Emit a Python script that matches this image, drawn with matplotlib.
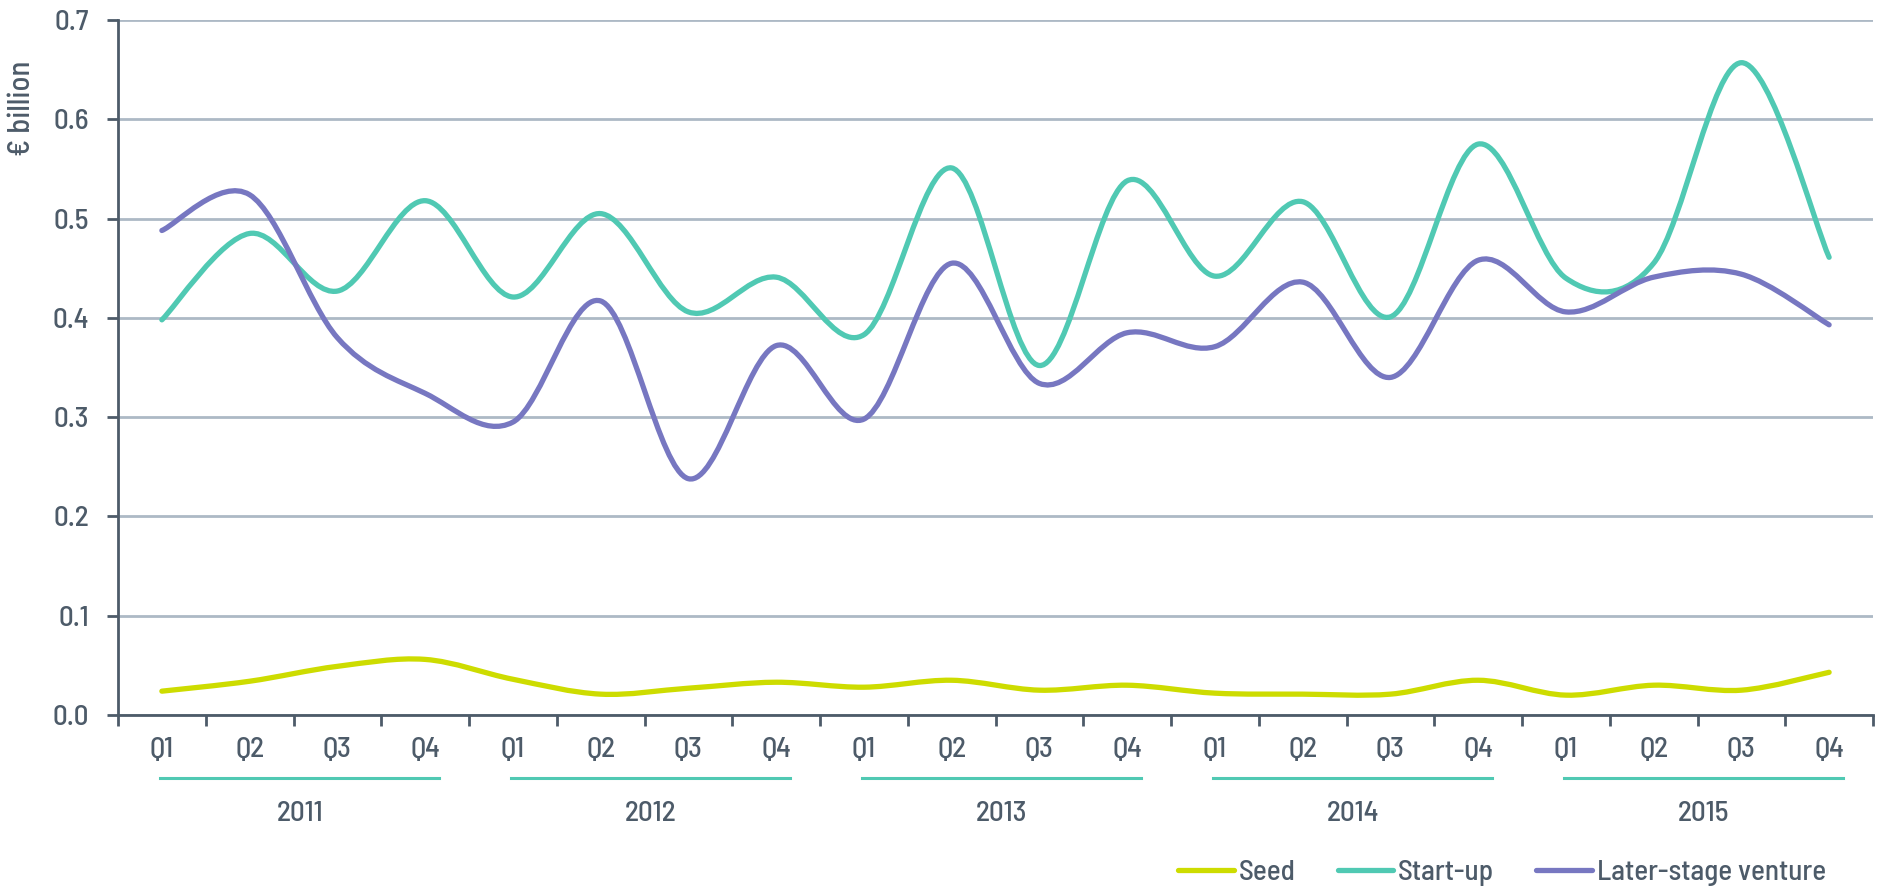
import numpy as np
import matplotlib
matplotlib.use("Agg")
import matplotlib.pyplot as plt
from matplotlib.path import Path
from matplotlib.patches import PathPatch
from matplotlib.lines import Line2D
import matplotlib.transforms as mtransforms

# ---------------- data ----------------
years = ["2011", "2012", "2013", "2014", "2015"]
quarters = ["Q1", "Q2", "Q3", "Q4"]
seed = [0.024, 0.034, 0.049, 0.056, 0.036, 0.021, 0.027, 0.033, 0.028, 0.035,
        0.025, 0.030, 0.022, 0.021, 0.021, 0.035, 0.020, 0.030, 0.025, 0.043]
start_up = [0.398, 0.485, 0.427, 0.518, 0.421, 0.505, 0.406, 0.441, 0.383, 0.551,
            0.352, 0.538, 0.442, 0.517, 0.401, 0.575, 0.440, 0.455, 0.657, 0.461]
later_stage = [0.488, 0.524, 0.380, 0.324, 0.295, 0.417, 0.238, 0.372, 0.298, 0.455,
               0.334, 0.385, 0.371, 0.436, 0.340, 0.458, 0.406, 0.441, 0.444, 0.393]
series_names = ["Seed", "Start-up", "Later-stage venture"]
y_ticks = [0.0, 0.1, 0.2, 0.3, 0.4, 0.5, 0.6, 0.7]

# ---------------- style ----------------
plt.rcParams['font.family'] = ['Barlow Semi Condensed', 'DejaVu Sans']
plt.rcParams['font.weight'] = 500
TXT = "#4d5b69"
GRID = "#adb9c5"
colors = ["#cddc00", "#50c9b3", "#7777c1"]
FS = 21

W, H = 1883, 890
fig = plt.figure(figsize=(W / 100, H / 100), dpi=100)
ax = fig.add_axes([118 / W, 1 - 715 / H, (1873 - 118) / W, (715 - 20) / H])

n = len(start_up)
x = np.arange(n)


def smooth_path(xs, ys):
    xs = np.asarray(xs, float)
    ys = np.asarray(ys, float)
    pts = np.column_stack([xs, ys])
    ext = np.vstack([pts[0], pts, pts[-1]])
    verts = [pts[0]]
    codes = [Path.MOVETO]
    for i in range(len(pts) - 1):
        p0, p1, p2, p3 = ext[i], ext[i + 1], ext[i + 2], ext[i + 3]
        c1 = p1 + (p2 - p0) / 6.0
        c2 = p2 - (p3 - p1) / 6.0
        verts += [c1, c2, p2]
        codes += [Path.CURVE4] * 3
    return Path(verts, codes)


for vals, col in zip([seed, start_up, later_stage], colors):
    patch = PathPatch(smooth_path(x, vals), facecolor="none", edgecolor=col,
                      lw=3.8, capstyle="round", joinstyle="round", zorder=3)
    ax.add_patch(patch)

ax.set_xlim(-0.5, n - 0.5)
ax.set_ylim(0, 0.7)

# grid & spines
ax.set_yticks(y_ticks)
ax.set_yticklabels([f"{v:.1f}" for v in y_ticks])
ax.yaxis.grid(True, color=GRID, lw=2.0, zorder=0)
ax.set_axisbelow(True)
for s in ["top", "right"]:
    ax.spines[s].set_visible(False)
for s in ["left", "bottom"]:
    ax.spines[s].set_color(TXT)
    ax.spines[s].set_linewidth(2.0)

ax.tick_params(axis="y", length=8, width=2, color=TXT, labelsize=FS,
               labelcolor=TXT, pad=13)
# x: major ticks at centers (labels), minor at boundaries (marks)
ax.set_xticks(x)
ax.set_xticklabels(quarters * len(years))
ax.set_xticks(np.arange(-0.5, n, 1.0), minor=True)
ax.tick_params(axis="x", which="major", length=0, labelsize=FS,
               labelcolor=TXT, pad=16)
ax.tick_params(axis="x", which="minor", length=8, width=2, color=TXT)

# year group lines and labels
trans = mtransforms.blended_transform_factory(ax.transData, ax.transAxes)
line_y = (715 - 777.5) / 695
year_y = (715 - 821) / 695
for k, yr in enumerate(years):
    x0 = 4 * k - 0.02
    x1 = 4 * k + 3 + 0.16
    ax.add_line(Line2D([x0, x1], [line_y, line_y], transform=trans,
                       color=colors[1], lw=2.2, clip_on=False))
    ax.text((x0 + x1) / 2, year_y, yr, transform=trans, ha="center",
            va="baseline", fontsize=FS, color=TXT)

# y label
fig.text(22 / W, 1 - 108 / H, "€ billion", rotation=90, ha="center",
         va="center", fontsize=22, color=TXT)

# legend
handles = [Line2D([], [], color=c, lw=3.8, solid_capstyle="round") for c in colors]
leg = fig.legend(handles, series_names, loc="center right",
                 bbox_to_anchor=(1826 / W, 1 - 873 / H), ncol=3, frameon=False,
                 fontsize=FS, handlelength=1.9, handletextpad=0.17,
                 columnspacing=1.45, borderpad=0, borderaxespad=0)
for t in leg.get_texts():
    t.set_color(TXT)

fig.savefig("out.png", dpi=100)
